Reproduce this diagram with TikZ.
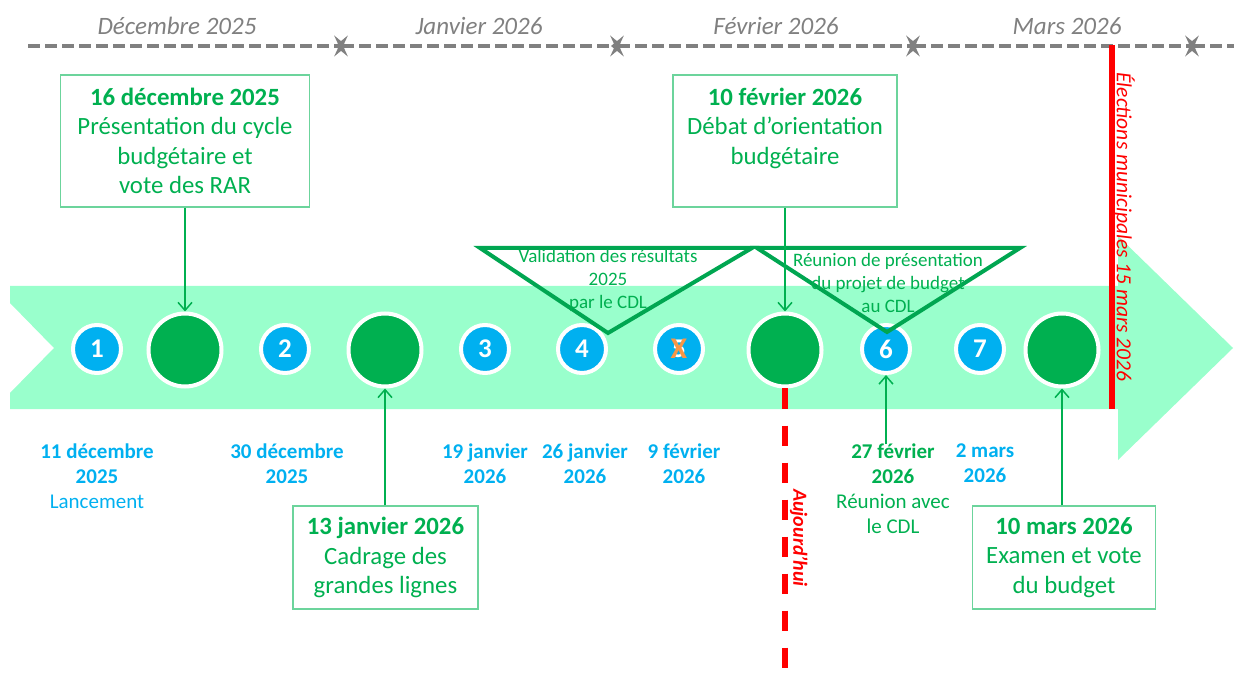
\documentclass[tikz,border=0pt]{standalone}
\usepackage{fontspec}
\setmainfont{Carlito}
\usetikzlibrary{arrows.meta}
\definecolor{band}{HTML}{99FFCC}
\definecolor{gblue}{HTML}{00B0F0}
\definecolor{ggreen}{HTML}{00B050}
\definecolor{boxgreen}{HTML}{6CD49C}
\definecolor{trigreen}{HTML}{00A651}
\definecolor{grayline}{HTML}{808080}
\definecolor{xorange}{HTML}{F79646}
\definecolor{redl}{HTML}{FF0000}
\newcommand\fsz[2]{\fontsize{#1}{#2}\selectfont}
\tikzset{
  numc/.style={circle, fill=gblue, draw=white, line width=4pt, minimum size=48pt, inner sep=0pt, text=white, font=\fsz{27}{30}\bfseries},
  bigc/.style={circle, fill=ggreen, draw=white, line width=4pt, minimum size=73pt, inner sep=0pt},
  evbox/.style={draw=boxgreen, line width=1.5pt, text=ggreen, align=center, font=\fsz{24.8}{29.5}, inner sep=0pt},
  month/.style={text=grayline, font=\fsz{25}{28}\itshape, anchor=base, inner sep=0pt},
  monthline/.style={draw=grayline, line width=4pt, dash pattern=on 12pt off 5pt},
  gtip/.tip={Stealth[length=8pt,width=13pt,inset=3pt,scale=1.6]},
  datelbl/.style={text=gblue, align=center, font=\fsz{21}{25}, anchor=north, inner sep=0pt},
  trilbl/.style={text=ggreen, align=center, font=\fsz{19}{23}, inner sep=0pt},
  tri/.style={draw=trigreen, line width=4pt},
  conn/.style={draw=ggreen, line width=1.5pt, -{Straight Barb[length=8pt,width=14pt]}},
}
\begin{document}
\begin{tikzpicture}[x=1pt,y=-1pt]
\useasboundingbox (0,0) rectangle (1234,684);

% month arrows
\draw[monthline, -gtip] (28,46) -- (347,46);
\draw[monthline, gtip-gtip] (335,46) -- (623,46);
\draw[monthline, gtip-gtip] (611,46) -- (919,46);
\draw[monthline, gtip-gtip] (907,46) -- (1198,46);
\draw[monthline, gtip-] (1186,46) -- (1234,46);

\node[month] (mdec) at (177,35) {Décembre 2025};
\node[month] (mjan) at (479,35) {Janvier 2026};
\node[month] (mfev) at (776,35) {Février 2026};
\node[month] (mmar) at (1067,35) {Mars 2026};

% band
\fill[band] (10,286) -- (1118,286) -- (1118,236) -- (1233,348) -- (1118,460) -- (1118,409) -- (10,409) -- (10,393) -- (54,348) -- (10,303) -- cycle;

% circles
\node[numc] (c1) at (97,349) {1};
\node[bigc] (g1) at (185,350) {};
\node[numc] (c2) at (285,349) {2};
\node[bigc] (g2) at (385,350) {};
\node[numc] (c3) at (485,349) {3};
\node[numc] (c4) at (582,349) {4};
\node[numc] (c5) at (679,349) {5};
\node[text=xorange, font=\fsz{30}{30}\bfseries, inner sep=0pt] (x5) at (c5) {X};
\node[bigc] (g3) at (785,350) {};
\node[numc] (c6) at (886,349) {6};
\node[numc] (c7) at (980,349) {7};
\node[bigc] (g4) at (1062,350) {};

% triangles
\draw[tri] (480,248) -- (752,248) -- (608,333) -- cycle;
\draw[tri] (757,248) -- (1020,248) -- (887,332) -- cycle;
\node[trilbl] (t1) at (608,280) {Validation des résultats\\2025\\par le CDL};
\node[trilbl] (t2) at (888,283) {Réunion de présentation\\du projet de budget\\au CDL};

% top boxes
\node[evbox, minimum width=249pt, minimum height=132pt] (b1) at (185,141)
  {\textbf{16 décembre 2025}\\Présentation du cycle\\budgétaire et\\vote des RAR};
\node[evbox, minimum width=224pt, minimum height=132pt] (b2) at (785,141)
  {\textbf{10 février 2026}\\Débat d’orientation\\budgétaire\\~};
% bottom boxes
\node[evbox, minimum width=185pt, minimum height=103pt] (b3) at (385.5,557.5)
  {\textbf{13 janvier 2026}\\Cadrage des\\grandes lignes};
\node[evbox, minimum width=183pt, minimum height=103pt] (b4) at (1064,557.5)
  {\textbf{10 mars 2026}\\Examen et vote\\du budget};

% connectors
\draw[conn] (b1.south -| g1) -- (g1.north);
\draw[conn] (b2.south -| g3) -- (g3.north);
\draw[conn] (b3.north -| g2) -- (g2.south);
\draw[conn] (b4.north -| g4) -- (g4.south);

% date labels
\node[datelbl] (l1) at (97,444) {\textbf{11 décembre}\\\textbf{2025}\\Lancement};
\node[datelbl] (l2) at (287,444) {\textbf{30 décembre}\\\textbf{2025}};
\node[datelbl] (l3) at (485,444) {\textbf{19 janvier}\\\textbf{2026}};
\node[datelbl] (l4) at (585,444) {\textbf{26 janvier}\\\textbf{2026}};
\node[datelbl] (l5) at (684,444) {\textbf{9 février}\\\textbf{2026}};
\node[datelbl, text=ggreen] (l6) at (893,444) {\textbf{27 février}\\\textbf{2026}\\Réunion avec\\le CDL};
\node[datelbl] (l7) at (985,444) {\textbf{2 mars}\\\textbf{2026}};
\draw[conn] (l6.north -| c6) -- (c6.south);

% today line
\coordinate (todayend) at (785,684);
\draw[redl, line width=6pt, dash pattern=on 20pt off 17pt] (g3.south) -- (todayend);
\node[text=redl, rotate=-90, font=\fsz{20}{24}\bfseries\itshape, inner sep=0pt] (today) at (799,538) {Aujourd’hui};

% elections line
\coordinate (elTop) at (1112,45);
\coordinate (elBot) at (1112,409);
\draw[redl, line width=6pt] (elTop) -- (elBot);
\node[text=redl, rotate=-90, font=\fsz{21.5}{26}\itshape, inner sep=0pt] (elec) at (1124,227) {Élections municipales 15 mars 2026};
\end{tikzpicture}
\end{document}
